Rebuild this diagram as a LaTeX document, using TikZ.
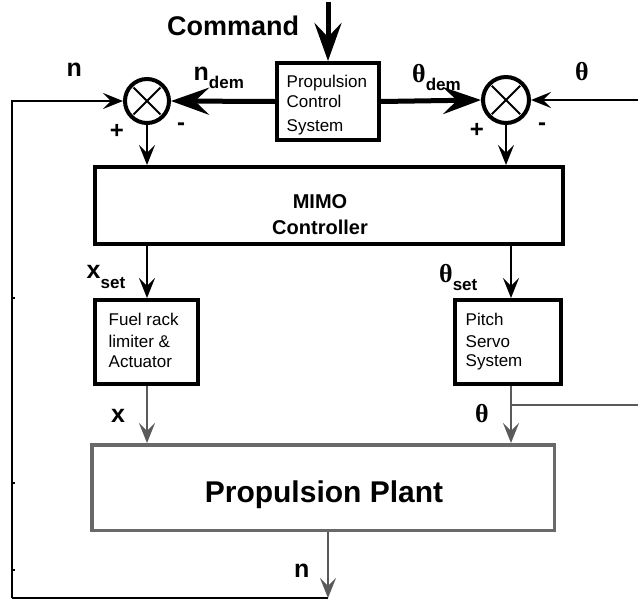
\documentclass[tikz,border=0pt]{standalone}
\usepackage{fontspec}
\setmainfont{Liberation Sans}
\newfontfamily\thetafont{Liberation Serif}
\usetikzlibrary{arrows.meta,calc}
\definecolor{plantgray}{RGB}{105,105,105}
\definecolor{lowgray}{RGB}{90,90,90}
\newcommand{\fsz}[1]{\fontsize{#1}{#1}\selectfont}
\newcommand{\thsym}{{\thetafont\bfseries θ}}
\begin{document}
\begin{tikzpicture}[x=1pt,y=-1pt,
  blockbox/.style={draw,line width=4pt,inner sep=0pt,minimum width=#1},
  sumnode/.style={draw,circle,line width=4pt,inner sep=0pt,minimum size=#1},
  bigarrow/.style={line width=5pt,-{Stealth[length=38pt 0,width=27pt 0,inset=14pt 0]}},
  thinarrow/.style={line width=2pt,-{Stealth[length=20pt 0,width=16pt 0,inset=8pt 0]}},
  fbline/.style={line width=2pt},
  lbl/.style={inner sep=0pt,anchor=base west,font=\bfseries\fsz{25}},
  boxtext/.style={inner sep=0pt,anchor=base west,font=\fsz{17}},
  signtxt/.style={inner sep=0pt,font=\bfseries\fsz{24}}
]
\useasboundingbox (0,0) rectangle (638,600);
% blocks
\node[blockbox=102pt,minimum height=77pt] (pcs) at (328,101.5) {};
\node[blockbox=468pt,minimum height=77pt] (mimo) at (329,205.5) {};
\node[blockbox=103pt,minimum height=84pt] (fuel) at (146.5,342) {};
\node[blockbox=106pt,minimum height=84pt] (pitch) at (508,342) {};
\node[draw=plantgray,line width=3.5pt,inner sep=0pt,minimum width=462.5pt,minimum height=85.5pt] (plant) at (323,487.5) {};
% summing junctions
\node[sumnode=44pt] (sumL) at (147,101) {};
\node[sumnode=46pt] (sumR) at (506,100) {};
\foreach \s/\r in {sumL/19,sumR/20}{
  \draw[line width=2pt] ($(\s.center)+(45:\r)$) -- ($(\s.center)+(225:\r)$);
  \draw[line width=2pt] ($(\s.center)+(135:\r)$) -- ($(\s.center)+(315:\r)$);
}
% coordinates
\coordinate (cmdtop) at (328,2);
\coordinate (colR) at (511,0);
\coordinate (br) at (511,405);
\coordinate (brR) at (639,405);
\coordinate (thR) at (639,100);
\coordinate (nout) at (328,598);
\coordinate (fbcorner) at (12,598);
% texts in blocks
\node[boxtext] (pcs1) at (286.5,87) {Propulsion};
\node[boxtext] (pcs2) at (286.5,107) {Control};
\node[boxtext] (pcs3) at (286.5,131) {System};
\node[inner sep=0pt,anchor=base,font=\bfseries\fsz{20}] (mimo1) at (320,208) {MIMO};
\node[inner sep=0pt,anchor=base,font=\bfseries\fsz{20}] (mimo2) at (320,234) {Controller};
\node[boxtext] (fuel1) at (108.5,325) {Fuel rack};
\node[boxtext] (fuel2) at (108.5,347) {limiter \&};
\node[boxtext] (fuel3) at (108.5,367) {Actuator};
\node[boxtext] (pitch1) at (465.5,325) {Pitch};
\node[boxtext] (pitch2) at (465.5,347) {Servo};
\node[boxtext] (pitch3) at (465.5,366) {System};
\node[inner sep=0pt,anchor=base,font=\bfseries\fsz{30}] (plant1) at (324,502) {Propulsion Plant};
% connectors
\draw[bigarrow] (cmdtop) -- (pcs.north);
\draw[bigarrow] (pcs.west) -- (sumL.east);
\draw[bigarrow] (pcs.east) -- (sumR.west);
\draw[thinarrow] (thR) -- (sumR.east);
\draw[fbline] (nout) -- (fbcorner);
\draw[thinarrow] (fbcorner) |- (sumL.west);
\foreach \y in {298,483,570}{\draw[line width=1.2pt] (12,\y) -- (15,\y);}
\draw[thinarrow] (sumL.south) -- (sumL.south |- mimo.north);
\draw[thinarrow] (sumR.south) -- (sumR.south |- mimo.north);
\draw[thinarrow] (mimo.south -| sumL) -- (fuel.north -| sumL);
\draw[thinarrow] (mimo.south -| colR) -- (pitch.north -| colR);
\draw[thinarrow,lowgray] (fuel.south -| sumL) -- (plant.north -| sumL);
\draw[thinarrow,lowgray] (pitch.south -| colR) -- (plant.north -| colR);
\draw[fbline,lowgray] (br) -- (brR);
\draw[thinarrow,lowgray] (plant.south -| nout) -- (nout);
% labels
\node[lbl,font=\bfseries\fsz{27}] (cmd) at (167,35) {Command};
\node[lbl] (nlbl) at (66.5,76) {n};
\node[lbl] (ndem) at (193.5,80) {n\raisebox{-8pt}{\fsz{17}dem}};
\node[lbl] (thdem) at (412,82) {\fsz{26}\thsym\raisebox{-8pt}{\fsz{17}dem}};
\node[lbl] (thlbl) at (575,80) {\fsz{26}\thsym};
\node[lbl] (xset) at (86.5,278) {x\raisebox{-10pt}{\fsz{17}set}};
\node[lbl] (thset) at (439,282) {\fsz{26}\thsym\raisebox{-8pt}{\fsz{17}set}};
\node[lbl] (xlbl) at (111,422) {x};
\node[lbl] (thlow) at (475,422) {\fsz{26}\thsym};
\node[lbl] (nlow) at (294,577) {n};
\node[signtxt] (pL) at (117,131) {+};
\node[signtxt] (mL) at (181,127) {-};
\node[signtxt] (pR) at (477,130) {+};
\node[signtxt] (mR) at (542,127) {-};
\end{tikzpicture}
\end{document}
